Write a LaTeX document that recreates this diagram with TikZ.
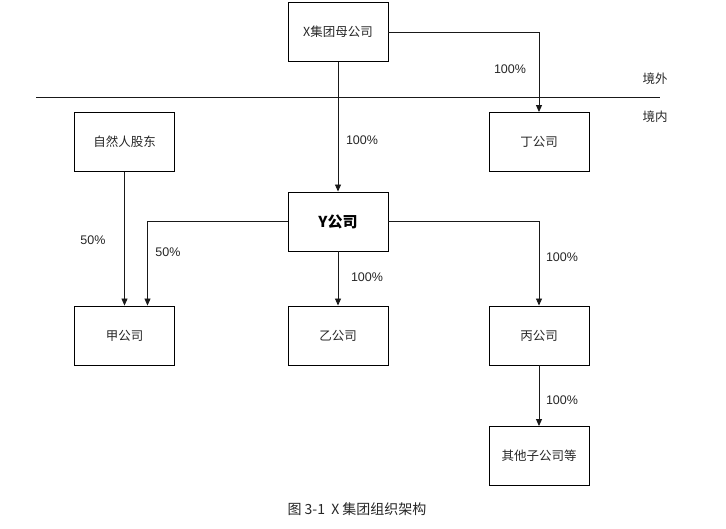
\documentclass[tikz,border=0pt]{standalone}
\usepackage{fontspec}
\setmainfont{Noto Sans CJK SC}
\newfontfamily\cjk{Noto Sans CJK SC}
\newfontfamily\lat{Liberation Sans}
\usetikzlibrary{arrows.meta,calc}
\begin{document}
\begin{tikzpicture}[x=1pt,y=-1pt,
  box/.style={draw=black,line width=0.9pt,minimum width=100pt,minimum height=59pt,inner sep=0pt,font=\cjk\fontsize{12.5}{14}\selectfont,text=black!85},
  conn/.style={draw=black!90,line width=0.9pt,-{Triangle[length=7pt,width=6pt]}},
  lbl/.style={font=\lat\fontsize{12.5}{14}\selectfont,text=black!85,inner sep=0pt}]
\useasboundingbox (0,0) rectangle (726,529);
\node[box] (X) at (338,32) {X集团母公司};
\node[box] (D) at (539,142) {丁公司};
\node[box] (N) at (124.5,142) {自然人股东};
\node[box,font=\cjk\bfseries\fontsize{15}{17}\selectfont,text=black] (Y) at (338,221.5) {Y公司};
\node[box] (J) at (124.5,335.5) {甲公司};
\node[box] (Yi) at (338,335.5) {乙公司};
\node[box] (B) at (539,335.5) {丙公司};
\node[box] (Q) at (539,456) {其他子公司等};
\coordinate (bl) at (36,97);
\coordinate (br) at (660,97);
\draw[line width=0.9pt,black!90] (bl) -- (br);
\node[lbl,font=\cjk\fontsize{12.5}{14}\selectfont] (out) at (655,79) {境外};
\node[lbl,font=\cjk\fontsize{12.5}{14}\selectfont] (in) at (655,117) {境内};
\draw[conn] (X.east) -| (D.north);
\draw[conn] (X.south) -- (Y.north);
\draw[conn] (N.south) -- (J.north);
\coordinate (J2) at ($(J.north)+(23,0)$);
\draw[conn] (Y.west) -| (J2);
\draw[conn] (Y.south) -- (Yi.north);
\draw[conn] (Y.east) -| (B.north);
\draw[conn] (B.south) -- (Q.north);
\node[lbl] (l1) at (510,69) {100\%};
\node[lbl] (l2) at (362,140) {100\%};
\node[lbl] (l3) at (93,240) {50\%};
\node[lbl] (l4) at (168,252) {50\%};
\node[lbl] (l5) at (367,277) {100\%};
\node[lbl] (l6) at (562,257) {100\%};
\node[lbl] (l7) at (562,400) {100\%};
\node[lbl,font=\cjk\fontsize{14}{16}\selectfont] (cap) at (357,509) {图\ 3-1\ \ X\ 集团组织架构};
\end{tikzpicture}
\end{document}
